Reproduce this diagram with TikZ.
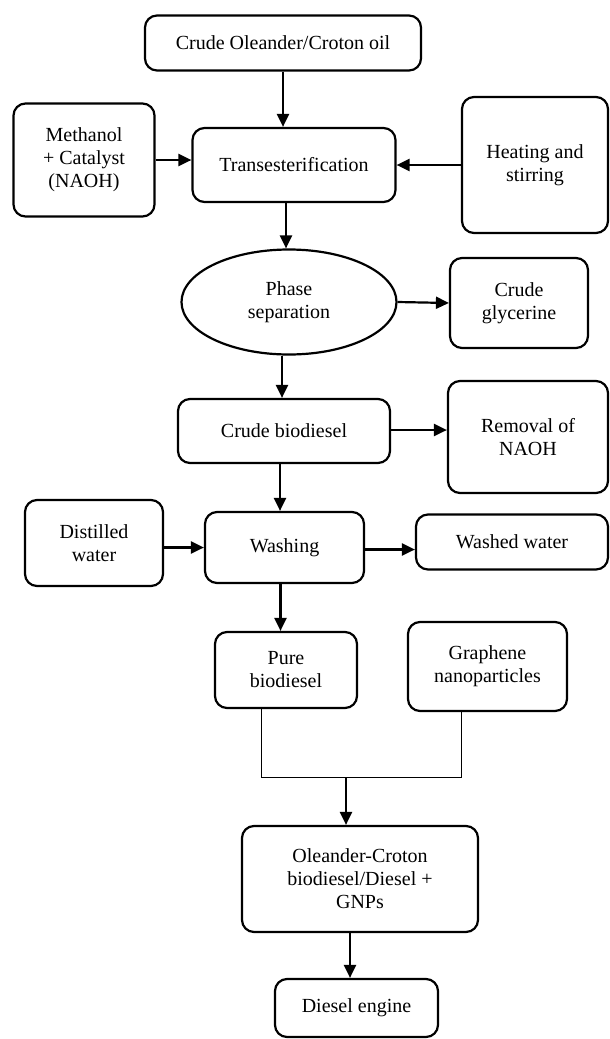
\documentclass[tikz,border=0pt]{standalone}
\usepackage{fontspec}
\setmainfont{Liberation Serif}
\usetikzlibrary{arrows.meta,shapes.geometric}

\begin{document}
\begin{tikzpicture}[x=1pt,y=-1pt,
  box/.style={draw,line width=2.2pt,rounded corners=12pt,align=center,inner sep=0pt,
    font=\fontsize{20}{23}\selectfont},
  oval/.style={draw,line width=2.2pt,ellipse,align=center,inner sep=0pt,
    font=\fontsize{20}{23}\selectfont},
  arr/.style={line width=2.2pt,-{Triangle[length=13pt,width=12pt]}},
  joinline/.style={line width=1pt}]
\useasboundingbox (0,0) rectangle (610,1039);
\node[box,minimum width=276pt,minimum height=55pt] (oil) at (283,43) {Crude Oleander/Croton oil};
\node[box,minimum width=141pt,minimum height=113pt] (meth) at (84,160) {Methanol\\+ Catalyst\\(NAOH)};
\node[box,minimum width=203pt,minimum height=74pt] (trans) at (294,165) {Transesterification};
\node[box,minimum width=146pt,minimum height=136pt] (heat) at (535,165) {Heating and\\stirring};
\node[oval,minimum width=215pt,minimum height=105pt] (phase) at (289,302) {Phase\\separation};
\node[box,minimum width=138pt,minimum height=90pt] (glyc) at (519,303) {Crude\\glycerine};
\node[box,minimum width=212pt,minimum height=64pt] (cbio) at (284,431) {Crude biodiesel};
\node[box,minimum width=160pt,minimum height=112pt] (naoh) at (528,437) {Removal of\\NAOH};
\node[box,minimum width=138pt,minimum height=86pt] (dist) at (94,543) {Distilled\\water};
\node[box,minimum width=159pt,minimum height=71pt] (wash) at (284.5,547.5) {Washing};
\node[box,minimum width=192pt,minimum height=55pt] (wwater) at (512,542) {Washed water};
\node[box,minimum width=142pt,minimum height=76pt] (pure) at (286,670) {Pure\\biodiesel};
\node[box,minimum width=159pt,minimum height=89pt] (gnp) at (487.5,666.5) {Graphene\\nanoparticles};
\node[box,minimum width=236pt,minimum height=106pt] (blend) at (360,879) {Oleander-Croton\\biodiesel/Diesel +\\GNPs};
\node[box,minimum width=163pt,minimum height=58pt] (engine) at (356.5,1008) {Diesel engine};
\path (346,777) coordinate(join);
\draw[arr] (oil.south) -- (oil.south |- trans.north);
\draw[arr] (meth.east) -- (meth.east -| trans.west);
\draw[arr] (heat.west) -- (heat.west -| trans.east);
\draw[arr] ([xshift=-8pt]trans.south) -- ([xshift=-8pt]trans.south |- phase.north);
\draw[arr] (phase.east) -- (glyc.west);
\draw[arr] ([xshift=-7pt]phase.south) -- ([xshift=-7pt]phase.south |- cbio.north);
\draw[arr] ([yshift=1pt]cbio.east) -- ([yshift=1pt]cbio.east -| naoh.west);
\draw[arr] ([xshift=-4pt]cbio.south) -- ([xshift=-4pt]cbio.south |- wash.north);
\draw[arr] (wash.west -| dist.east) -- (wash.west);
\draw[arr] ([yshift=-2pt]wash.east) -- ([yshift=-2pt]wash.east -| wwater.west);
\draw[arr] ([xshift=-4pt]wash.south) -- ([xshift=-4pt]wash.south |- pure.north);
\draw[joinline] ([xshift=-25pt]pure.south) |- (join)
  -| ([xshift=-26.5pt]gnp.south);
\draw[arr] (join) -- (join |- blend.north);
\draw[arr] ([xshift=-10pt]blend.south) -- ([xshift=-10pt]blend.south |- engine.north);
\end{tikzpicture}
\end{document}
